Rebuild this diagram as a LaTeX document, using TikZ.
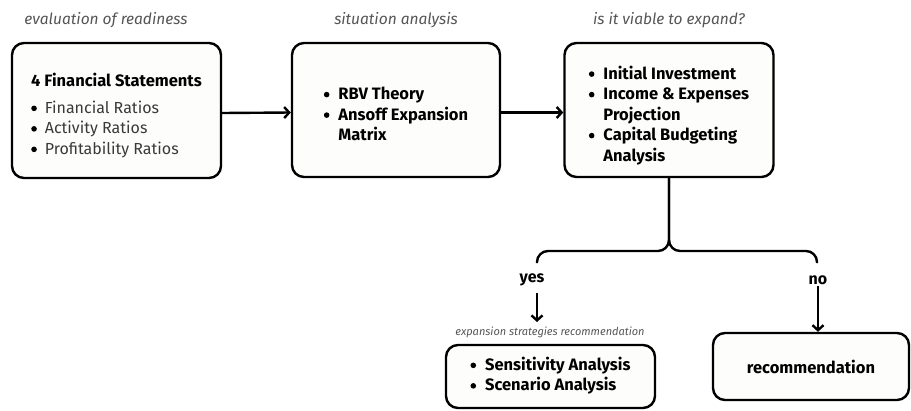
\documentclass[tikz,border=0pt]{standalone}
\usepackage{fontspec}
\setmainfont{Fira Sans}
\usetikzlibrary{arrows.meta}
\definecolor{labgray}{HTML}{555555}
\definecolor{reggray}{HTML}{3A3A3A}
\definecolor{boxfill}{HTML}{FDFDFB}
\newcommand{\bitem}{\tikz[baseline=0pt]\fill[black] (0pt,5pt) circle[radius=2.8pt];}
\newcommand{\padtop}[2]{\raisebox{0pt}[\dimexpr\height+#1\relax][\depth]{#2}}
\begin{document}
\begin{tikzpicture}[x=1pt,y=-1pt,
  box/.style={draw, line width=2.4pt, rounded corners=12pt, fill=boxfill, inner sep=0pt,
    align=left, font=\fontsize{16.5}{20.5}\selectfont\bfseries},
  toplabel/.style={font=\fontsize{15.5}{18}\selectfont\itshape, text=labgray, inner sep=1pt},
  smalllabel/.style={font=\fontsize{11}{13}\selectfont\itshape, text=labgray, inner sep=1pt},
  branchlabel/.style={font=\fontsize{16}{18}\selectfont\bfseries, inner sep=1pt},
  conn/.style={line width=2.4pt},
  arr/.style={line width=2.4pt, -{Straight Barb[length=5pt,width=11pt,line width=2.4pt]}}
]
\useasboundingbox (0,0) rectangle (911,410);

% labels above boxes
\node[toplabel] (l1) at (106,20) {evaluation of readiness};
\node[toplabel] (l2) at (396,20) {situation analysis};
\node[toplabel] (l3) at (669,20) {is it viable to expand?};

% boxes
\node[box, minimum width=209pt, minimum height=135pt] (b1) at (116.5,110.5) {\padtop{12pt}{%
  \begin{tabular}{@{}l@{\hspace{8pt}}l@{}}
  \multicolumn{2}{@{}l@{}}{4 Financial Statements}\\[6pt]
  \bitem & \mdseries\fontsize{16}{20.5}\selectfont\color{reggray}Financial Ratios\\
  \bitem & \mdseries\fontsize{16}{20.5}\selectfont\color{reggray}Activity Ratios\\
  \bitem & \mdseries\fontsize{16}{20.5}\selectfont\color{reggray}Profitability Ratios
  \end{tabular}}};

\node[box, minimum width=208pt, minimum height=134pt] (b2) at (396,110) {\padtop{12pt}{%
  \begin{tabular}{@{}l@{\hspace{9pt}}l@{}}
  \bitem & RBV Theory\\
  \bitem & Ansoff Expansion\\
         & Matrix
  \end{tabular}}};

\node[box, minimum width=209pt, minimum height=134pt] (b3) at (669,110) {\padtop{12pt}{%
  \begin{tabular}{@{}l@{\hspace{9pt}}l@{}}
  \bitem & Initial Investment\\
  \bitem & Income \& Expenses\\
         & Projection\\
  \bitem & Capital Budgeting\\
         & Analysis
  \end{tabular}}};

\node[box, minimum width=209pt, minimum height=63pt] (b4) at (550.5,376.5) {%
  \begin{tabular}{@{}l@{\hspace{9pt}}l@{}}
  \bitem & Sensitivity Analysis\\
  \bitem & Scenario Analysis
  \end{tabular}};

\node[box, minimum width=196pt, minimum height=67pt, align=center] (b5) at (811,366.5) {recommendation};

% arrows between top boxes
\draw[arr] ([yshift=-2.5pt]b1.east) -- ([yshift=-2.5pt]b2.west);
\draw[arr] ([yshift=-2.5pt]b2.east) -- ([yshift=-2.5pt]b3.west);

% brace split
\coordinate (yl) at (537,263);
\coordinate (nl) at (817,263);
\draw[conn, rounded corners=11pt] (b3.south) -- (669,251) -- (537,251) -- (yl);
\draw[conn, rounded corners=11pt] (b3.south) -- (669,251) -- (817,251) -- (nl);

% branch labels
\node[branchlabel] (yes) at (532,280) {yes};
\node[branchlabel] (no) at (818,280) {no};

\node[smalllabel] (l4) at (550,332) {expansion strategies recommendation};

\coordinate (ys) at (537,293);
\coordinate (ye) at (537,322);
\draw[arr] (ys) -- (ye);
\draw[arr] (no.south) -- (no.south |- b5.north);
\end{tikzpicture}
\end{document}
